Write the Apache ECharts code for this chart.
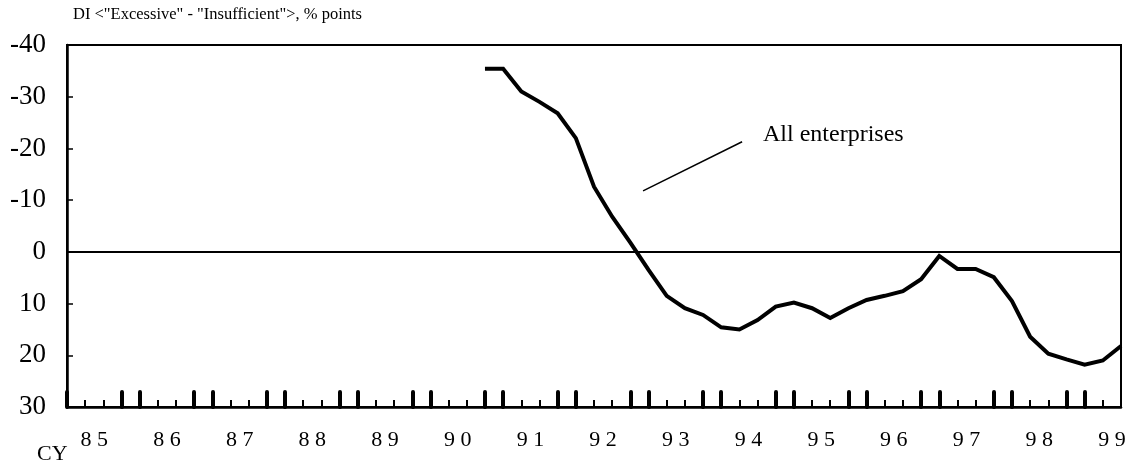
<!DOCTYPE html>
<html>
<head>
<meta charset="utf-8">
<script src="https://cdn.jsdelivr.net/npm/echarts@6/dist/echarts.min.js"></script>
<style>
html,body{margin:0;padding:0;background:#fff;}
#chart{width:1131px;height:464px;}
</style>
</head>
<body>
<div id="chart"></div>
<script>
// Quarter index 0 = first quarter of CY85; axis runs to index 58
const axisQuarterMax = 58;
const firstDataQuarter = 23;
// DI "Excessive" - "Insufficient", % points (All enterprises)
const diValues = [
  -35.4, -35.4, -31.0, -29.0, -26.8, -22.0, -12.6, -6.8, -1.8, 3.5,
  8.5, 10.9, 12.2, 14.6, 15.0, 13.2, 10.6, 9.8, 10.9, 12.8,
  10.9, 9.3, 8.5, 7.6, 5.3, 0.8, 3.3, 3.3, 4.9, 9.5,
  16.4, 19.7, 20.8, 21.8, 21.0, 18.2
];
const yearLabels = ['8 5','8 6','8 7','8 8','8 9','9 0','9 1','9 2','9 3','9 4','9 5','9 6','9 7','9 8','9 9'];
const yMin = -40, yMax = 30, yStep = 10;
const titleText = 'DI <"Excessive" - "Insufficient">, % points';
const seriesName = 'All enterprises';
const axisUnitLabel = 'CY';
// annotation anchor (data space: quarter index, value)
const annotLeader = [[31.7, -11.8], [37.15, -21.3]];
const annotTextAt = [38.3, -22.6];

const FONT = "'Liberation Serif','Times New Roman',serif";

const seriesData = diValues.map((v, i) => [firstDataQuarter + i, v]);
const labelPositions = yearLabels.map((_, k) => 1.5 + 4 * k);
const bigTicks = [];
for (let k = 0; k * 4 <= axisQuarterMax; k++) {
  bigTicks.push(4 * k);
  if (4 * k + 3 <= axisQuarterMax) bigTicks.push(4 * k + 3);
}

const chart = echarts.init(document.getElementById('chart'), null, {renderer: 'canvas'});
const option = {
  animation: false,
  backgroundColor: '#fff',
  grid: {left: 67, right: 10, top: 45, bottom: 57, show: true, borderColor: '#000', borderWidth: 2, backgroundColor: 'transparent'},
  xAxis: [
    {
      type: 'value', min: 0, max: axisQuarterMax, interval: 1, position: 'bottom',
      axisLine: {show: true, onZero: false, lineStyle: {color: '#000', width: 2.5}},
      axisTick: {show: true, inside: true, length: 7, lineStyle: {color: '#000', width: 2}},
      axisLabel: {
        show: true, customValues: labelPositions, margin: 22,
        fontFamily: FONT, fontSize: 22, color: '#000',
        formatter: (val) => yearLabels[Math.round((val - 1.5) / 4)]
      },
      splitLine: {show: false}
    },
    {
      type: 'value', min: 0, max: axisQuarterMax, position: 'bottom',
      axisLine: {show: false, onZero: false},
      axisTick: {show: true, inside: true, length: 15, customValues: bigTicks, lineStyle: {color: '#000', width: 4, cap: 'round'}},
      axisLabel: {show: false},
      splitLine: {show: false}
    }
  ],
  yAxis: {
    type: 'value', inverse: true, min: yMin, max: yMax, interval: yStep,
    axisLine: {show: true, onZero: false, lineStyle: {color: '#000', width: 2.5}},
    axisTick: {show: true, inside: true, length: 6, lineStyle: {color: '#000', width: 1.5}},
    axisLabel: {fontFamily: FONT, fontSize: 27, color: '#000', margin: 21},
    splitLine: {show: false}
  },
  series: [{
    name: seriesName,
    type: 'line',
    xAxisIndex: 0,
    data: seriesData,
    showSymbol: false,
    symbol: 'none',
    lineStyle: {color: '#000', width: 4, join: 'miter'},
    z: 5,
    markLine: {
      silent: true,
      symbol: ['none', 'none'],
      label: {show: false},
      data: [
        {yAxis: 0, lineStyle: {color: '#000', width: 2, type: 'solid'}},
        [{coord: annotLeader[0], lineStyle: {color: '#000', width: 1.5, type: 'solid'}}, {coord: annotLeader[1]}]
      ]
    }
  }]
};
chart.setOption(option);

const tp = chart.convertToPixel({xAxisIndex: 0, yAxisIndex: 0}, annotTextAt);
chart.setOption({
  graphic: [
    {type: 'text', left: 73, top: 6, style: {text: titleText, font: '16.5px ' + FONT, fill: '#000'}},
    {type: 'text', left: 37, top: 443, style: {text: axisUnitLabel, font: '22px ' + FONT, fill: '#000'}},
    {type: 'text', x: tp[0], y: tp[1], style: {text: seriesName, font: '24px ' + FONT, fill: '#000', verticalAlign: 'middle', align: 'left'}}
  ]
});
</script>
</body>
</html>
